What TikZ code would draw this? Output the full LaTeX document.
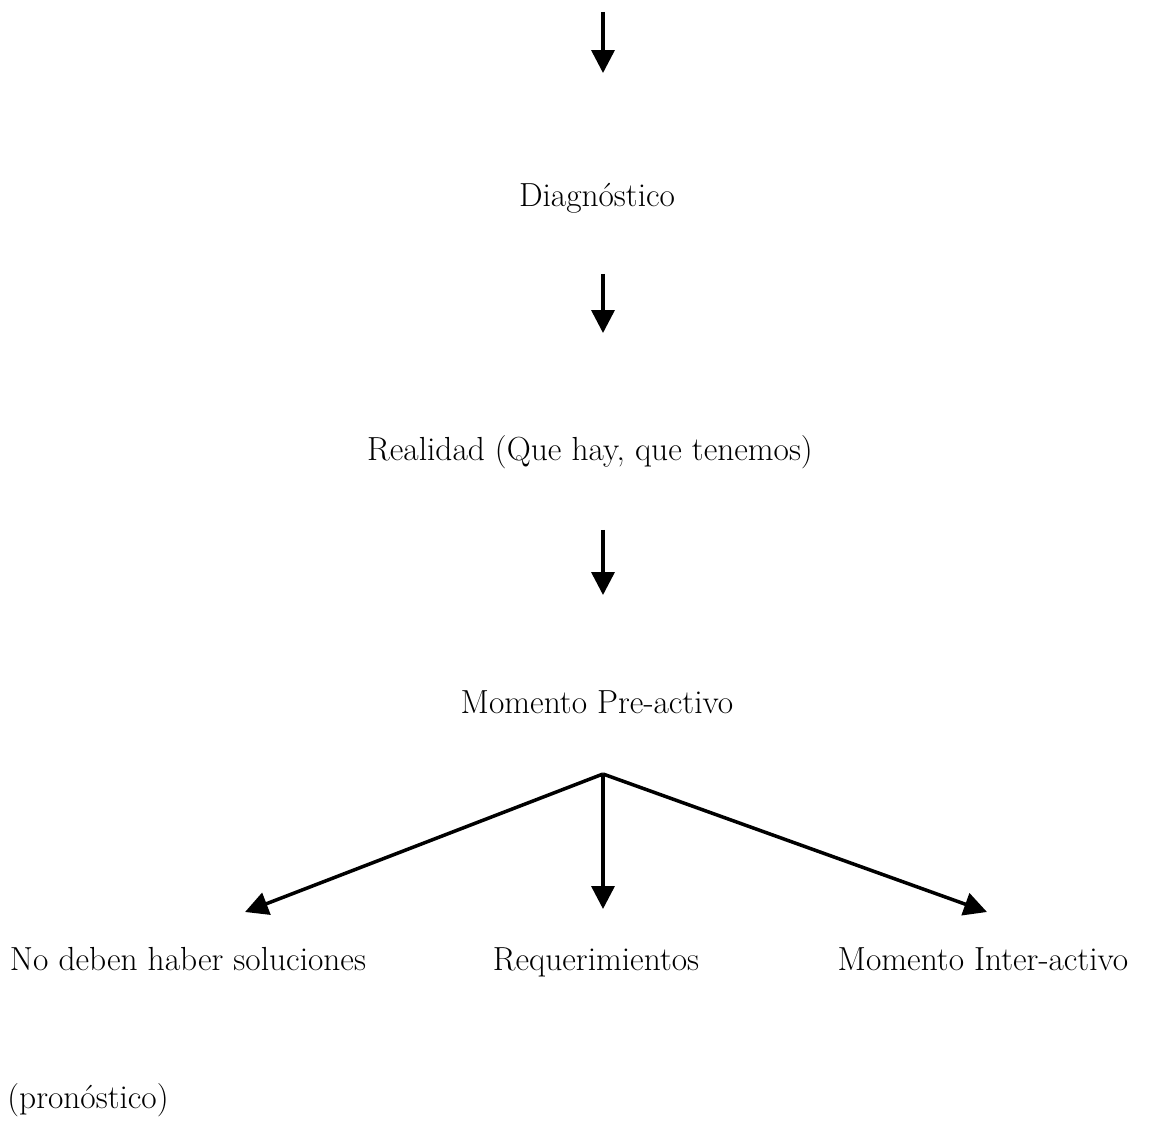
\documentclass[tikz,border=0pt]{standalone}
\usepackage{tikz}
\usetikzlibrary{arrows.meta}

\begin{document}
\begin{tikzpicture}[x = 0.02cm, y = -0.02cm]
% Node styles ---
\tikzstyle{txt} = [rectangle, anchor = base, inner sep = 0pt, font = \fontsize{19}{22}\selectfont]
\tikzstyle{con} = [-{Triangle[width = 0.46cm, length = 0.46cm]}, line width = 2pt, draw = black!100]
% Begin Figure ---
\useasboundingbox (0,0) rectangle (1171,1145);
% Nodes
\node at (597,207) [txt] (diag) {Diagnóstico};
\node at (590,461) [txt] (real) {Realidad (Que hay, que tenemos)};
\node at (597,714) [txt] (pre) {Momento Pre-activo};
\node at (188,970) [txt] (nodeb) {No deben haber soluciones};
\node at (596,970) [txt] (req) {Requerimientos};
\node at (983,970) [txt] (inter) {Momento Inter-activo};
\node at (88,1108) [txt] (pron) {(pronóstico)};
% Points
\coordinate (top) at (603,12);
\coordinate (split) at (603,774);
\coordinate (tipl) at (245,912);
\coordinate (tipm) at (603,909);
\coordinate (tipr) at (987,912);
% Paths
\path (top) edge [con, shorten > = 2.68cm] (diag.base -| top);
\path (diag.base -| top) edge [con, shorten < = 1.34cm, shorten > = 2.56cm] (real.base -| top);
\path (real.base -| top) edge [con, shorten < = 1.38cm, shorten > = 2.38cm] (pre.base -| top);
\path (split) edge [con] (tipl);
\path (split) edge [con] (tipm);
\path (split) edge [con] (tipr);
\end{tikzpicture}
\end{document}
